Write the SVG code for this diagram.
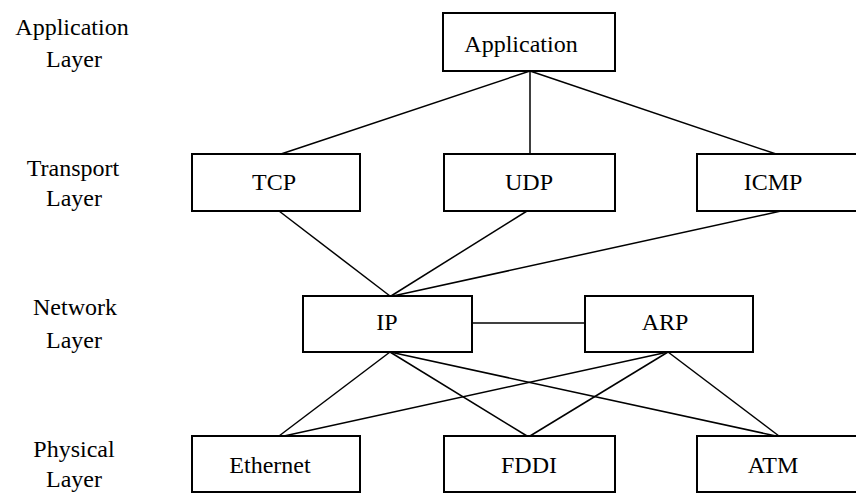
<svg xmlns="http://www.w3.org/2000/svg" width="856" height="493" viewBox="0 0 856 493">
<style>
  .box { fill: #fff; stroke: #000; stroke-width: 2; }
  .t { font-size: 24px; fill: #000; text-anchor: middle; }
  .c line { stroke: #000; stroke-width: 1.5; }
</style>
<rect width="856" height="493" fill="#fff"/>
<g id="connectors" class="c">
  <line x1="530" y1="71" x2="281" y2="154"/>
  <line x1="530" y1="71" x2="530" y2="154"/>
  <line x1="530" y1="71" x2="776" y2="154"/>
  <line x1="279" y1="211" x2="390" y2="296"/>
  <line x1="527" y1="211" x2="391" y2="296"/>
  <line x1="781" y1="211" x2="393" y2="296"/>
  <line x1="472" y1="323" x2="585" y2="323"/>
  <line x1="390" y1="352" x2="279" y2="436"/>
  <line x1="390" y1="352" x2="527" y2="436"/>
  <line x1="390" y1="352" x2="776" y2="436"/>
  <line x1="668" y1="352" x2="284" y2="436"/>
  <line x1="668" y1="352" x2="530" y2="436"/>
  <line x1="668" y1="352" x2="779" y2="436"/>
</g>
<g font-family="Liberation Serif, serif">
<g id="labels">
  <text class="t" x="72" y="35">Application</text>
  <text class="t" x="74" y="67">Layer</text>
  <text class="t" x="73" y="176">Transport</text>
  <text class="t" x="74" y="206">Layer</text>
  <text class="t" x="75" y="315">Network</text>
  <text class="t" x="74" y="348">Layer</text>
  <text class="t" x="74" y="457">Physical</text>
  <text class="t" x="74" y="487">Layer</text>
</g>
<g id="application"><rect class="box" x="443" y="13" width="172" height="58"/><text class="t" x="521" y="52">Application</text></g>
<g id="tcp"><rect class="box" x="192" y="154" width="168" height="57"/><text class="t" x="274" y="190">TCP</text></g>
<g id="udp"><rect class="box" x="444" y="154" width="171" height="57"/><text class="t" x="529" y="190">UDP</text></g>
<g id="icmp"><rect class="box" x="697" y="154" width="168" height="57"/><text class="t" x="773" y="190">ICMP</text></g>
<g id="ip"><rect class="box" x="303" y="296" width="169" height="56"/><text class="t" x="387" y="330">IP</text></g>
<g id="arp"><rect class="box" x="585" y="296" width="168" height="56"/><text class="t" x="665" y="330">ARP</text></g>
<g id="ethernet"><rect class="box" x="192" y="436" width="168" height="56"/><text class="t" x="270" y="473">Ethernet</text></g>
<g id="fddi"><rect class="box" x="444" y="436" width="171" height="56"/><text class="t" x="529" y="473">FDDI</text></g>
<g id="atm"><rect class="box" x="697" y="436" width="168" height="56"/><text class="t" x="773" y="473">ATM</text></g>
</g>
</svg>
